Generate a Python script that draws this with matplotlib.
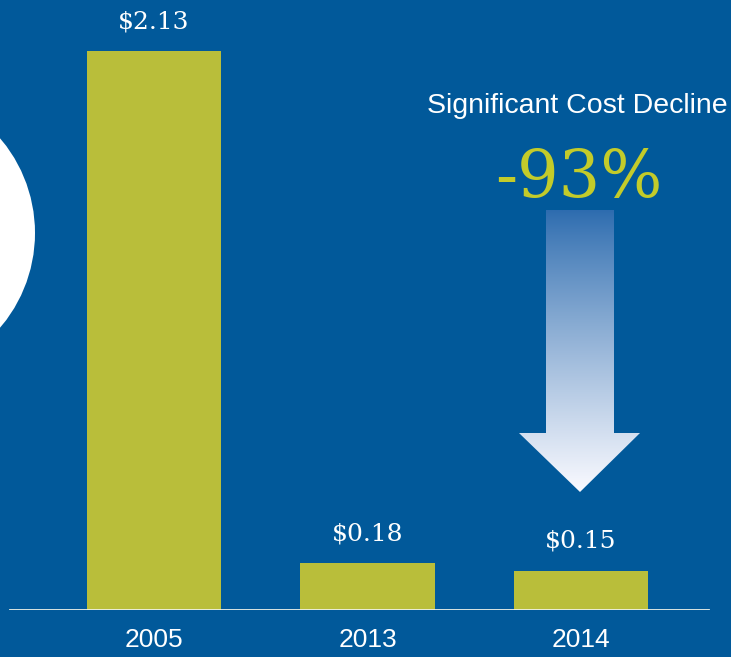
import numpy as np
import matplotlib
matplotlib.use("Agg")
import matplotlib.pyplot as plt
from matplotlib.patches import Circle, Polygon

# Cost per unit by year
years = ["2005", "2013", "2014"]
costs = [2.13, 0.18, 0.15]
headline = "Significant Cost Decline"
change_label = "-93%"

BG = "#01599a"
BAR = "#b9be3a"
ACCENT = "#c3cb2a"
W, H = 731, 657

fig = plt.figure(figsize=(W / 100, H / 100), dpi=100)
fig.patch.set_facecolor(BG)

# Decoration layer in pixel coordinates (origin top-left)
deco = fig.add_axes([0, 0, 1, 1])
deco.set_xlim(0, W)
deco.set_ylim(H, 0)
deco.axis("off")
deco.set_facecolor(BG)

deco.add_patch(Circle((-111, 233), 146, facecolor="white", edgecolor="none"))

# Gradient arrow pointing down
arrow_pts = [(546, 210), (614, 210), (614, 433), (640, 433), (580, 492),
             (519, 433), (546, 433)]
arrow = Polygon(arrow_pts, closed=True, facecolor="none", edgecolor="none")
deco.add_patch(arrow)
t = np.linspace(0, 1, 256)[:, None]
top = np.array([45, 108, 175]) / 255
bot = np.array([250, 250, 255]) / 255
grad = top + (bot - top) * (t[..., None] ** 0.9)
grad = np.repeat(grad, 2, axis=1)
img = deco.imshow(grad, extent=(519, 640, 492, 210), aspect="auto",
                  interpolation="bilinear", zorder=2)
img.set_clip_path(arrow)

deco.text(577, 106, headline, color="white", fontsize=20.5,
          family="Liberation Sans", ha="center", va="center")
deco.text(579, 179, change_label, color=ACCENT, fontsize=47,
          family="DejaVu Serif", ha="center", va="center", zorder=3)

# Bar chart layer
px_per_unit = 262.4
base_px = 610
x_span = 213.5
ax = fig.add_axes([0, (H - base_px) / H, 1, base_px / H])
ax.patch.set_alpha(0)
x = np.arange(len(years))
ax.set_xlim(-154 / x_span, (W - 154) / x_span)
ax.set_ylim(0, base_px / px_per_unit)
ax.bar(x, costs, width=0.63, color=BAR, zorder=2)
for xi, v in zip(x, costs):
    ax.annotate(f"${v:.2f}", (xi, v), xytext=(0, 21), textcoords="offset points",
                ha="center", va="center", color="white", fontsize=18,
                family="DejaVu Serif")
ax.axhline(0, xmin=10 / W, xmax=708 / W, color="#eef2e8", lw=2, zorder=3)
ax.set_xticks(x, years)
ax.tick_params(axis="x", length=0, pad=13, labelsize=19, labelcolor="white")
for lbl in ax.get_xticklabels():
    lbl.set_family("Liberation Sans")
ax.set_yticks([])
for s in ax.spines.values():
    s.set_visible(False)

fig.savefig("out.png", dpi=100, facecolor=BG)
